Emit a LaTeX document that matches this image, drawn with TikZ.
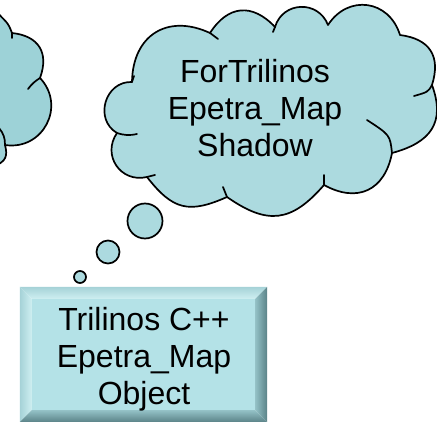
\documentclass[tikz,border=0pt]{standalone}
\usepackage{fontspec}
\setmainfont{Liberation Sans}
\usepackage{tikz}
\usetikzlibrary{positioning}
\usepackage{xcolor}
\definecolor{cloudblue}{RGB}{172,218,223}
\definecolor{darkcloud}{RGB}{157,210,215}
\definecolor{boxface}{RGB}{180,226,231}
\definecolor{bevlight}{RGB}{208,240,242}
\definecolor{bevedge}{RGB}{165,210,215}
\definecolor{bevshade}{RGB}{150,196,201}
\definecolor{bevdark}{RGB}{90,130,135}

\begin{document}
\begin{tikzpicture}[x=1pt, y=-1pt,
	cloud/.style={draw=black, line width=1.7pt, line join=round, looseness=1.3},
	cloudline/.style={draw=black, line width=1.7pt, line cap=round},
	bubble/.style={circle, fill=cloudblue, draw=black, line width=1.7pt, inner sep=0pt},
	words/.style={font=\fontsize{32}{37}\selectfont, align=center, inner sep=0pt}]
\clip (0,0) rectangle (437,422);

\path[cloud, fill=darkcloud] (-30,12) -- (-3,12) to[out=-50,in=110] (12,33) to[bend left=52] (40,78)
	to[bend left=71] (5,145) to[bend left=40] (-5,166) -- (-30,166) -- cycle;
\draw[cloudline] (40,78) to[bend right=10] (28,89);
\draw[cloudline] (5,145) to[bend right=20] (-1,128);
\draw[cloudline] (12,33) -- (12,38);

\path[cloud, fill=cloudblue] (117,133) to[bend left=76] (132,82) to[bend left=57] (210,33)
	to[bend left=52] (275,27) to[bend left=71] (328,25) to[bend left=65] (400,35)
	to[bend left=50] (432,85) to[out=-70,in=15] (392,153) to[bend left=54] (324,185)
	to[bend left=42] (227,197) to[bend left=38] (147,177) to[bend left=69] (117,133) -- cycle;
\draw[cloudline] (117,133) to[bend right=15] (137,134);
\draw[cloudline] (132,82) to[bend left=10] (134,76);
\draw[cloudline] (210,33) -- (218,39);
\draw[cloudline] (275,27) -- (273,32);
\draw[cloudline] (432,85) .. controls (428,92) .. (414,96);
\draw[cloudline] (392,153) .. controls (390,135) .. (367,120);
\draw[cloudline] (324,185) -- (324,175);
\draw[cloudline] (227,197) -- (223,187);
\draw[cloudline] (147,177) -- (155,175);
\node[words] (shadow) at (255,108) {ForTrilinos\\Epetra\_Map\\Shadow};

\node[bubble, minimum size=35pt] (big) at (145,221) {};
\node[bubble, minimum size=23pt] (mid) at (108,252) {};
\node[bubble, minimum size=12pt] (small) at (80,277) {};

\node[minimum width=247pt, minimum height=135pt, inner sep=0pt] (object) at (143.5,354.5) {};
\coordinate (object nw) at ([shift={(12.5,12.5)}]object.north west);
\coordinate (object ne) at ([shift={(-12.5,12.5)}]object.north east);
\coordinate (object se) at ([shift={(-12.5,-12.5)}]object.south east);
\coordinate (object sw) at ([shift={(12.5,-12.5)}]object.south west);
\shade[top color=bevedge, bottom color=bevlight] (object.north west) -- (object.north east) -- (object ne) -- (object nw) -- cycle;
\shade[left color=bevedge, right color=bevlight] (object.north west) -- (object nw) -- (object sw) -- (object.south west) -- cycle;
\shade[left color=bevshade, right color=bevdark] (object.north east) -- (object ne) -- (object se) -- (object.south east) -- cycle;
\shade[top color=bevshade, bottom color=bevdark] (object.south west) -- (object sw) -- (object se) -- (object.south east) -- cycle;
\fill[boxface] (object nw) rectangle (object se);
\node[words] (objtext) at (144,359) {Trilinos C++\\Epetra\_Map\\Object};
\end{tikzpicture}
\end{document}
